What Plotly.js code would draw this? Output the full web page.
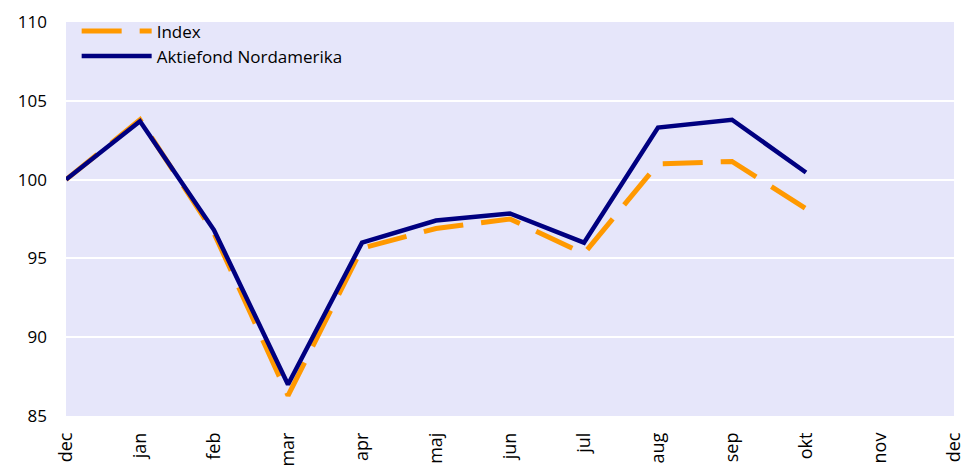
<!DOCTYPE html>
<html>
<head>
<meta charset="utf-8">
<script src="https://cdn.plot.ly/plotly-3.0.1.min.js"></script>
<style>html,body{margin:0;padding:0;background:#fff;}#chart{width:964px;height:467px;}</style>
</head>
<body>
<div id="chart"></div>
<script>
const monthLabels = ["dec","jan","feb","mar","apr","maj","jun","jul","aug","sep","okt","nov","dec"];
const indexValues = [100, 103.8, 96.6, 86.3, 95.65, 96.9, 97.5, 95.3, 101.0, 101.15, 98.15];
const fundValues  = [100, 103.7, 96.8, 87.0, 96.0, 97.4, 97.85, 96.0, 103.3, 103.8, 100.45];
const seriesNames = ["Index", "Aktiefond Nordamerika"];

const xPos = monthLabels.map((_, i) => i);

const traces = [
  {
    x: xPos.slice(0, indexValues.length), y: indexValues, name: seriesNames[0],
    type: "scatter", mode: "lines",
    line: {color: "#FF9900", width: 5, dash: "40px,18px"}
  },
  {
    x: xPos.slice(0, fundValues.length), y: fundValues, name: seriesNames[1],
    type: "scatter", mode: "lines",
    line: {color: "#000080", width: 4.5}
  }
];

const layout = {
  width: 964, height: 467,
  margin: {l: 66, r: 10, t: 22, b: 51, pad: 0},
  paper_bgcolor: "#ffffff",
  plot_bgcolor: "#E6E6FA",
  font: {family: "Open Sans, Liberation Sans, sans-serif", size: 16, color: "#000"},
  showlegend: true,
  legend: {
    x: 0.012, y: 1.022, xanchor: "left", yanchor: "top",
    bgcolor: "rgba(0,0,0,0)", font: {size: 17, color: "#000"},
    itemwidth: 70, tracegroupgap: 0
  },
  xaxis: {
    range: [0, 12], tickmode: "array", tickvals: xPos, ticktext: monthLabels,
    tickangle: -90, showgrid: false, zeroline: false, showline: false,
    ticks: "", ticklabelstandoff: 12, ticklabeloverflow: "allow", tickfont: {size: 18}
  },
  yaxis: {
    range: [85, 110], tickmode: "array", tickvals: [85, 90, 95, 100, 105, 110],
    showgrid: true, gridcolor: "#ffffff", gridwidth: 2, zeroline: false,
    showline: false, ticks: "", ticklabelstandoff: 18, tickfont: {size: 17}
  }
};

Plotly.newPlot("chart", traces, layout, {displayModeBar: false, staticPlot: true});
</script>
</body>
</html>
